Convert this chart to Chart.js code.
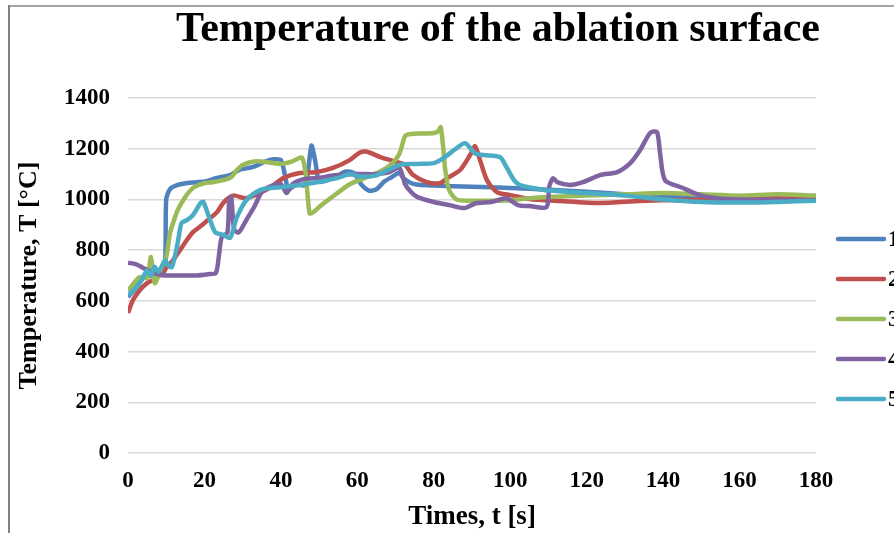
<!DOCTYPE html>
<html>
<head>
<meta charset="utf-8">
<script src="https://cdn.jsdelivr.net/npm/chart.js@4/dist/chart.umd.min.js"></script>
<style>
  html, body { margin: 0; padding: 0; background: #fff; overflow: hidden; }
  #wrap { width: 894px; height: 533px; position: relative; }
</style>
</head>
<body>
<div id="wrap"><canvas id="c" width="894" height="533"></canvas></div>
<script>
const chartTitle = 'Temperature of the ablation surface';
const xTitle = 'Times, t [s]';
const yTitle = 'Temperature, T [°C]';
const seriesNames = ['1', '2', '3', '4', '5'];
const seriesColors = ['#4F81BD', '#C0504D', '#9BBB59', '#8064A2', '#4BACC6'];

// Series 1 (blue)
const t1 = [0, 2, 4, 6, 8, 9.6, 10, 11, 13, 15.5, 18, 20.5, 23, 26.7, 29, 32.7, 36, 38, 40, 41, 42, 44, 46, 47, 48, 49, 50, 52, 55, 57, 59, 61, 63, 65, 67, 69, 71, 72, 74, 76, 80, 90, 100, 110, 120, 130, 140, 150, 160, 170, 180];
const T1 = [615, 650, 690, 700, 705, 720, 1000, 1041, 1057, 1065, 1068, 1072, 1084, 1096, 1116, 1128, 1150, 1158, 1155, 1100, 1040, 1060, 1055, 1100, 1212, 1150, 1070, 1075, 1095, 1110, 1105, 1060, 1035, 1040, 1070, 1088, 1105, 1085, 1065, 1058, 1055, 1050, 1045, 1038, 1030, 1020, 1012, 1008, 1005, 1002, 1000];

// Series 2 (red)
const t2 = [0, 1.3, 3.1, 5, 6.5, 8.4, 10.2, 11.8, 13.6, 15.4, 17, 19.4, 21.5, 23.3, 24.9, 26.7, 28, 31, 37, 40.6, 45, 49.5, 53.6, 58, 60.7, 62.5, 66, 70.4, 72.5, 74.6, 78.2, 81.6, 83.5, 86.9, 89.5, 90.8, 92.1, 93.9, 96.5, 100, 105, 113, 123.5, 134, 144.4, 155, 165, 176, 180];
const T2 = [552, 603, 643, 670, 682, 702, 733, 761, 800, 840, 871, 899, 927, 950, 986, 1010, 1015, 1005, 1045, 1084, 1104, 1108, 1124, 1155, 1185, 1188, 1167, 1147, 1136, 1096, 1068, 1064, 1084, 1116, 1175, 1210, 1155, 1076, 1029, 1017, 1002, 994, 986, 994, 998, 1000, 1005, 1010, 1010];

// Series 3 (green)
const t3 = [0, 3, 5, 6, 7, 8.5, 10, 11, 11.8, 13, 15, 17, 20, 22, 25, 27, 28.5, 30, 33, 36, 40, 43, 45.5, 46.5, 47.5, 48.5, 50, 53, 58, 62, 66, 69, 71, 72.5, 74, 77, 80, 81.2, 81.8, 82.5, 83, 84, 86, 90, 95, 100, 105, 110, 120, 130, 140, 150, 160, 170, 180];
const T3 = [640, 694, 690, 773, 670, 722, 773, 868, 907, 958, 1010, 1045, 1064, 1068, 1076, 1088, 1116, 1136, 1150, 1148, 1140, 1150, 1165, 1100, 945, 950, 970, 1005, 1060, 1085, 1110, 1140, 1180, 1250, 1258, 1260, 1262, 1270, 1285, 1200, 1116, 1037, 1000, 995, 995, 997, 1005, 1010, 1015, 1020, 1025, 1020, 1015, 1020, 1015];

// Series 4 (purple)
const t4 = [0, 2, 4, 6, 8, 10, 14, 18, 21, 23, 23.8, 24.5, 26, 26.5, 27, 27.8, 29, 31, 33, 35, 37, 40, 41.5, 43, 46, 50, 54, 60, 65, 68.5, 71, 72.5, 74, 75.6, 80, 84, 88, 91, 95, 99, 102, 105, 109.5, 110.2, 111.2, 112.3, 115.6, 119, 123.5, 128, 131.4, 134, 136.6, 138.4, 139.2, 140.5, 145.2, 149.6, 154, 160, 170, 180];
const T4 = [750, 745, 730, 715, 705, 700, 700, 700, 705, 710, 780, 850, 870, 1000, 1010, 880, 870, 920, 970, 1030, 1050, 1060, 1025, 1060, 1080, 1085, 1095, 1100, 1100, 1108, 1125, 1060, 1030, 1010, 990, 978, 966, 985, 990, 1005, 978, 974, 970, 1050, 1084, 1068, 1057, 1068, 1096, 1108, 1143, 1195, 1262, 1266, 1183, 1076, 1045, 1017, 1005, 1000, 998, 995];

// Series 5 (cyan)
const t5 = [0, 2, 3.5, 5, 6, 7, 8, 9.7, 10.5, 11.5, 13, 14, 15.4, 17, 19, 19.7, 21.5, 22.8, 25, 26.7, 28.5, 31, 34.5, 40.6, 45, 49.4, 55, 58, 61, 65, 71, 75.6, 80, 82.5, 86, 88.2, 90.8, 93, 97.3, 99, 101, 102.5, 106, 110, 120, 130, 140, 150, 160, 170, 180];
const T5 = [623, 650, 680, 720, 700, 735, 715, 760, 740, 733, 828, 907, 918, 938, 986, 990, 918, 871, 860, 848, 930, 998, 1037, 1049, 1057, 1068, 1085, 1100, 1090, 1095, 1136, 1140, 1143, 1163, 1202, 1222, 1182, 1175, 1167, 1128, 1076, 1057, 1045, 1035, 1025, 1015, 1000, 990, 988, 990, 995];

const xTicks = [0, 20, 40, 60, 80, 100, 120, 140, 160, 180];
const yTicks = [0, 200, 400, 600, 800, 1000, 1200, 1400];

const allT = [t1, t2, t3, t4, t5];
const allV = [T1, T2, T3, T4, T5];

const serif = '"Liberation Serif", "Times New Roman", "DejaVu Serif", serif';

const datasets = seriesNames.map((name, i) => ({
  label: name,
  data: allT[i].map((t, k) => ({ x: t, y: allV[i][k] })),
  borderColor: seriesColors[i],
  backgroundColor: seriesColors[i],
  borderWidth: 4.5,
  pointRadius: 0,
  tension: 0.25,
  fill: false,
  order: seriesNames.length - i
}));

const decor = {
  id: 'decor',
  afterDraw(chart) {
    const ctx = chart.ctx;
    ctx.save();
    // frame
    ctx.fillStyle = '#a6a6a6';
    ctx.fillRect(8, 5, 886, 2);
    ctx.fillStyle = '#808080';
    ctx.fillRect(8, 5, 2, 528);
    // title
    ctx.fillStyle = '#000';
    ctx.font = 'bold 42px ' + serif;
    ctx.textAlign = 'center';
    ctx.textBaseline = 'alphabetic';
    ctx.fillText(chartTitle, 498, 41);
    // legend
    const y0 = 239, dy = 40;
    seriesNames.forEach((name, i) => {
      const y = y0 + i * dy;
      ctx.strokeStyle = seriesColors[i];
      ctx.lineWidth = 4.5;
      ctx.lineCap = 'round';
      ctx.beginPath();
      ctx.moveTo(838, y);
      ctx.lineTo(884, y);
      ctx.stroke();
      ctx.fillStyle = '#000';
      ctx.font = 'bold 23px ' + serif;
      ctx.textAlign = 'left';
      ctx.textBaseline = 'middle';
      ctx.fillText(name, 888, y + 1);
    });
    ctx.restore();
  }
};

new Chart(document.getElementById('c'), {
  type: 'line',
  data: { datasets },
  options: {
    responsive: false,
    devicePixelRatio: 1,
    animation: false,
    layout: { padding: { left: 10, right: 78, top: 98, bottom: 0 } },
    plugins: {
      legend: { display: false },
      title: { display: false },
      tooltip: { enabled: false }
    },
    scales: {
      x: {
        type: 'linear',
        min: 0, max: 180,
        afterFit(scale) { scale.height = 80; },
        afterBuildTicks(scale) { scale.ticks = xTicks.map(v => ({ value: v })); },
        grid: { display: false, drawTicks: false },
        border: { display: false },
        ticks: { color: '#000', padding: 14, maxRotation: 0, callback: v => String(v), font: { family: serif, size: 23, weight: 'bold' } },
        title: { display: true, text: xTitle, color: '#000', padding: { top: 0, bottom: 0 }, font: { family: serif, size: 27, weight: 'bold' } }
      },
      y: {
        min: 0, max: 1400,
        afterFit(scale) { scale.width = 118; },
        afterBuildTicks(scale) { scale.ticks = yTicks.map(v => ({ value: v })); },
        grid: { color: '#d9d9d9', lineWidth: 1.5, drawTicks: false },
        border: { display: false },
        ticks: { color: '#000', padding: 18, callback: v => String(v), font: { family: serif, size: 23, weight: 'bold' } },
        title: { display: true, text: yTitle, color: '#000', padding: { top: 4, bottom: 0 }, font: { family: serif, size: 26, weight: 'bold' } }
      }
    }
  },
  plugins: [decor]
});
</script>
</body>
</html>
